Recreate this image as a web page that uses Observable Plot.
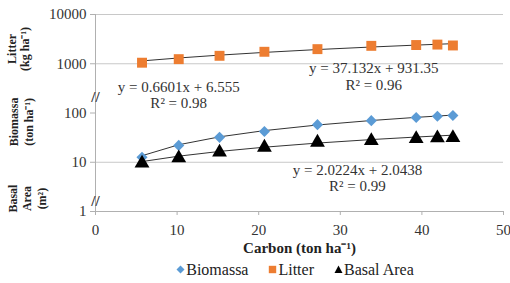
<!DOCTYPE html>
<html>
<head>
<meta charset="utf-8">
<script src="https://cdn.jsdelivr.net/npm/d3@7"></script>
<script src="https://cdn.jsdelivr.net/npm/@observablehq/plot@0.6"></script>
<style>
  body { margin: 0; background: #fff; font-family: 'Liberation Serif', 'Times New Roman', serif; }
  #chart { width: 510px; }
  #chart svg, #chart svg text { font-family: 'Liberation Serif', 'Times New Roman', serif !important; }
  .legend { display: flex; justify-content: center; align-items: center; gap: 20px; font-size: 16px; color: #222; height: 27px; padding-left: 80px; box-sizing: border-box; width: 510px; }
  .legend span { display: inline-flex; align-items: center; }
  .legend svg { margin-right: 1px; }
</style>
</head>
<body>
<div id="chart"></div>
<script>
// Data
const carbon   = [5.7, 10.2, 15.2, 20.7, 27.2, 33.8, 39.3, 41.9, 43.8];
const litter   = [1050, 1240, 1450, 1750, 1980, 2310, 2400, 2450, 2350];
const biomassa = [12.6, 22, 32, 42, 58, 70, 81, 86, 89];
const basal    = [9.5, 12.2, 15.9, 20, 25.3, 27.4, 30, 31, 31.5];

// Trendline coefficients as printed on the chart [slope, intercept]
const litterFit   = [37.132, 931.35];
const biomassaFit = [2.0224, 2.0438];
const basalFit    = [0.6601, 6.555];

const seriesNames = ["Biomassa", "Litter", "Basal Area"];
const seriesColors = ["#5b9bd5", "#ed7d31", "#000000"];
const yTicks = [1, 10, 100, 1000, 10000];
const xTicks = [0, 10, 20, 30, 40, 50];
const gridValues = [10, 1000, 10000];
const breakValues = [220, 1.67];

const rows = (ys) => carbon.map((c, i) => ({x: c, y: ys[i]}));
const fitRows = (f) => carbon.map(c => ({x: c, y: f[0] * c + f[1]}));

const serif = "'Liberation Serif', 'Times New Roman', serif";

const chart = Plot.plot({
  width: 510,
  height: 256,
  marginLeft: 95,
  marginRight: 7,
  marginTop: 14,
  marginBottom: 45,
  style: { fontFamily: serif, fontSize: "14px", color: "#333", background: "#fff" },
  x: { domain: [0, 50], ticks: xTicks, label: null },
  y: { type: "log", domain: [1, 10000], ticks: yTicks, tickFormat: d => String(d), label: null },
  marks: [
    Plot.ruleY(gridValues, { stroke: "#c8c8c8", strokeWidth: 1 }),
    Plot.ruleY([1], { stroke: "#b0b0b0", strokeWidth: 1 }),
    Plot.ruleX([0], { stroke: "#b0b0b0", strokeWidth: 1 }),
    Plot.axisY({ ticks: yTicks, tickFormat: d => String(d), tickSize: 5, tickPadding: 4, stroke: "#b0b0b0", fill: "#333", fontSize: 15 }),
    Plot.axisX({ ticks: xTicks, tickSize: 4, tickPadding: 9, stroke: "#b0b0b0", fill: "#333", fontSize: 15, label: null }),
    Plot.text(breakValues, { x: 0, y: d => d, text: () => "//", fontSize: 15, fontWeight: "bold", fill: "#333", dy: 1 }),
    // trendlines
    Plot.line(fitRows(litterFit), { x: "x", y: "y", stroke: "#333", strokeWidth: 1 }),
    Plot.line(fitRows(biomassaFit), { x: "x", y: "y", stroke: "#333", strokeWidth: 1 }),
    Plot.line(fitRows(basalFit), { x: "x", y: "y", stroke: "#333", strokeWidth: 1 }),
    // points
    Plot.dot(rows(litter), { x: "x", y: "y", symbol: "square", r: 5.6, fill: seriesColors[1], stroke: "none" }),
    Plot.dot(rows(biomassa), { x: "x", y: "y", symbol: "diamond2", r: 5, fill: seriesColors[0], stroke: "none" }),
    Plot.dot(rows(basal), { x: "x", y: "y", symbol: "triangle", r: 5.5, fill: seriesColors[2], stroke: "none" }),
    // equation labels
    Plot.text([`y = ${basalFit[0]}x + ${basalFit[1]}\nR² = 0.98`], { x: 10.2, y: 320, text: d => d, fontSize: 15, fill: "#333", lineHeight: 1.1, lineAnchor: "top", dy: -8 }),
    Plot.text([`y = ${litterFit[0]}x + ${litterFit[1]}\nR² = 0.96`], { x: 34.1, y: 760, text: d => d, fontSize: 15, fill: "#333", lineHeight: 1.1, lineAnchor: "top", dy: -8 }),
    Plot.text([`y = ${biomassaFit[0]}x + ${biomassaFit[1]}\nR² = 0.99`], { x: 32.1, y: 6.6, text: d => d, fontSize: 15, fill: "#333", lineHeight: 1.1, lineAnchor: "top", dy: -8 }),
    // y titles
    Plot.text(["Litter\n(kg ha⁻¹)"], { frameAnchor: "left", textAnchor: "middle", y: 2000, text: d => d, rotate: -90, dx: -77, fontWeight: "bold", fontSize: 12, fill: "#222", lineHeight: 1.05 }),
    Plot.text(["Biomassa\n(ton ha⁻¹)"], { frameAnchor: "left", textAnchor: "middle", y: 66, text: d => d, rotate: -90, dx: -75, fontWeight: "bold", fontSize: 12, fill: "#222", lineHeight: 1.3 }),
    Plot.text(["Basal\nArea\n(m²)"], { frameAnchor: "left", textAnchor: "middle", y: 1.83, text: d => d, rotate: -90, dx: -69, fontWeight: "bold", fontSize: 12, fill: "#222", lineHeight: 1.2 }),
    // x title
    Plot.text(["Carbon (ton ha⁻¹)"], { frameAnchor: "bottom", text: d => d, dy: 41, fontWeight: "bold", fontSize: 15, fill: "#222" })
  ]
});
document.getElementById("chart").appendChild(chart);

// legend
const shapes = {
  "Biomassa": `<svg width="9" height="9" viewBox="-4.5 -4.5 9 9"><path d="M0,-4L4,0L0,4L-4,0Z" fill="${seriesColors[0]}"/></svg>`,
  "Litter": `<svg width="9" height="9" viewBox="-4.5 -4.5 9 9"><rect x="-3.7" y="-3.7" width="7.4" height="7.4" fill="${seriesColors[1]}"/></svg>`,
  "Basal Area": `<svg width="9" height="9" viewBox="-4.5 -4.5 9 9"><path d="M0,-4L4,3.5L-4,3.5Z" fill="${seriesColors[2]}"/></svg>`
};
const leg = document.createElement("div");
leg.className = "legend";
leg.innerHTML = seriesNames.map(n => `<span>${shapes[n]}${n}</span>`).join("");
document.body.appendChild(leg);
</script>
</body>
</html>
